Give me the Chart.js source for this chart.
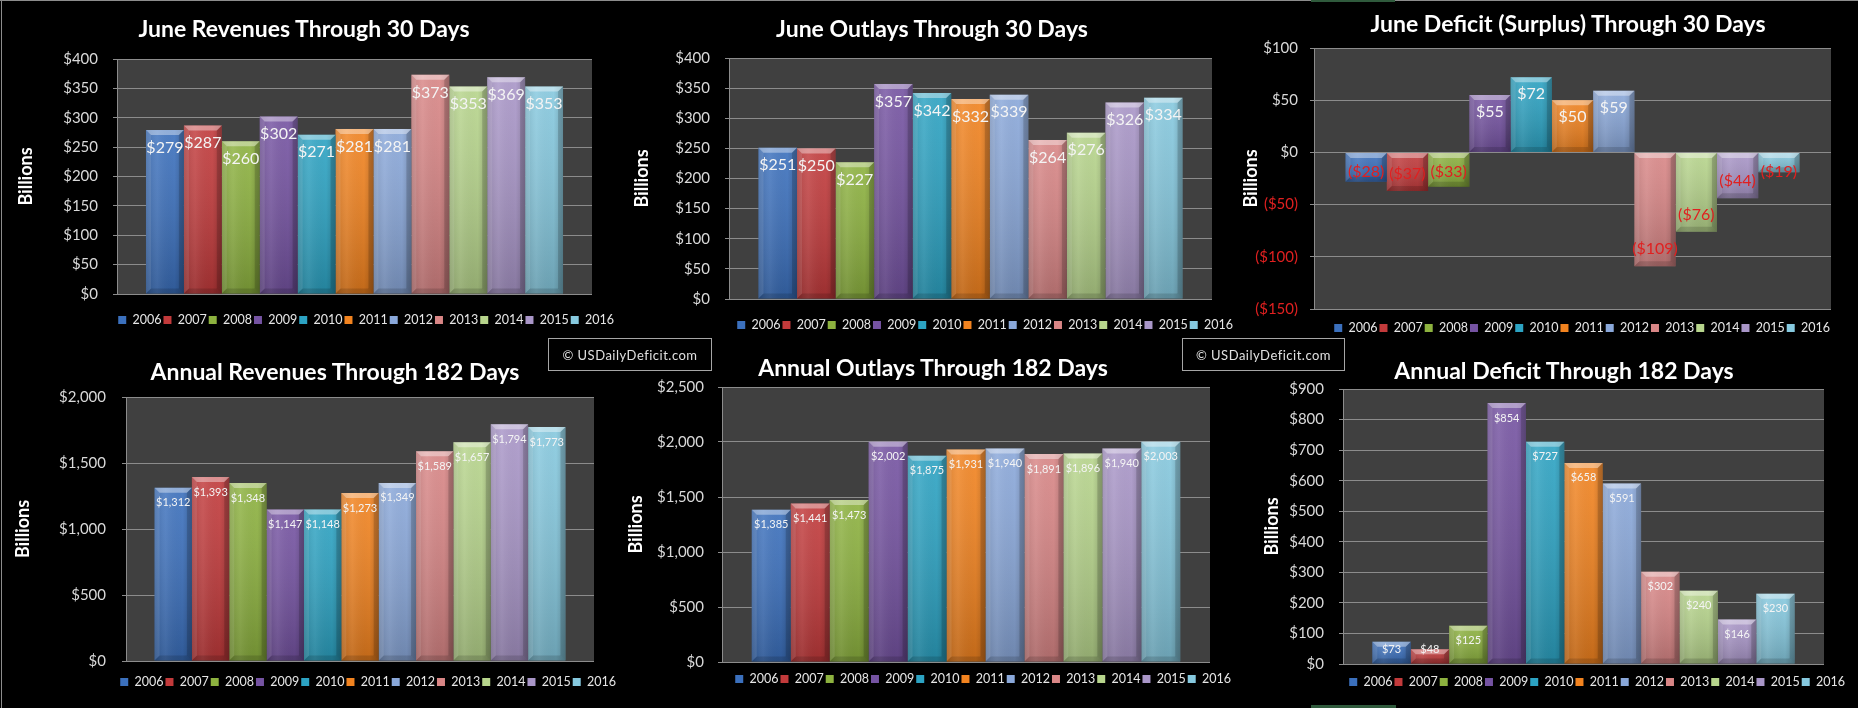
<!DOCTYPE html>
<html>
<head>
<meta charset="utf-8">
<title>US Daily Deficit - June</title>
<script src="https://cdn.jsdelivr.net/npm/chart.js@4.4.1/dist/chart.umd.min.js"></script>
<style>
  html, body { margin: 0; padding: 0; background: #000; overflow: hidden; }
  #board { position: relative; width: 1858px; height: 708px; overflow: hidden; background: #000; }
  canvas { position: absolute; }
  .line { position: absolute; background: #8c8c8c; }
  .title { position: absolute; transform: translate(-50%, -50%); color: #fff;
           font: bold 23px Lato, sans-serif; white-space: nowrap; }
  .stamp { position: absolute; box-sizing: border-box; border: 1px solid #a6a6a6; color: #e0e0e0;
           font: 13px Lato, sans-serif; letter-spacing: 0.5px;
           display: flex; align-items: center; justify-content: center; }
</style>
</head>
<body>
<div id="board">
  <div class="line" style="left:0;top:0;width:1858px;height:1px"></div>
  <div class="line" style="left:1px;top:0;width:1px;height:708px"></div>
  <div class="line" style="left:1311px;top:0;width:84px;height:2px;background:#2f5a3c"></div>
  <div class="line" style="left:1311px;top:705px;width:85px;height:3px;background:#2f5a3c"></div>

  <canvas id="c1"></canvas>
  <canvas id="c2"></canvas>
  <canvas id="c3"></canvas>
  <canvas id="c4"></canvas>
  <canvas id="c5"></canvas>
  <canvas id="c6"></canvas>

  <div class="title" style="left:304px;top:28px">June Revenues Through 30 Days</div>
  <div class="title" style="left:932px;top:28px">June Outlays Through 30 Days</div>
  <div class="title" style="left:1568px;top:23px">June Deficit (Surplus) Through 30 Days</div>
  <div class="title" style="left:335px;top:371px">Annual Revenues Through 182 Days</div>
  <div class="title" style="left:933px;top:367px">Annual Outlays Through 182 Days</div>
  <div class="title" style="left:1564px;top:370px">Annual Deficit Through 182 Days</div>

  <div class="stamp" style="left:548px;top:338px;width:164px;height:33px">© USDailyDeficit.com</div>
  <div class="stamp" style="left:1182px;top:338px;width:163px;height:33px">© USDailyDeficit.com</div>
</div>

<script>
// ---- data ----
const years = ['2006', '2007', '2008', '2009', '2010', '2011', '2012', '2013', '2014', '2015', '2016'];
const colors = ['#3b70bd', '#c23a3b', '#8db23f', '#7553a2', '#2ca3c3', '#f2831f',
                '#8aa8da', '#d98686', '#b7d58c', '#a996c8', '#86c9df'];

const juneRevenues   = [279, 287, 260, 302, 271, 281, 281, 373, 353, 369, 353];
const juneOutlays    = [251, 250, 227, 357, 342, 332, 339, 264, 276, 326, 334];
const juneDeficit    = [-28, -37, -33, 55, 72, 50, 59, -109, -76, -44, -19];
const annualRevenues = [1312, 1393, 1348, 1147, 1148, 1273, 1349, 1589, 1657, 1794, 1773];
const annualOutlays  = [1385, 1441, 1473, 2002, 1875, 1931, 1940, 1891, 1896, 1940, 2003];
const annualDeficit  = [73, 48, 125, 854, 727, 658, 591, 302, 240, 146, 230];

// y axis [min, max, step]
const juneRange       = [0, 400, 50];
const juneDefRange    = [-150, 100, 50];
const annRevRange     = [0, 2000, 500];
const annOutRange     = [0, 2500, 500];
const annDefRange     = [0, 900, 100];

const RED = '#e02020';
const GRID = '#8c8c8c';

function money(v) {
    const s = '$' + Math.abs(v).toLocaleString('en-US');
    return v < 0 ? '(' + s + ')' : s;
}

// dark plot area
const panel = {
    id: 'panel',
    beforeDraw(chart) {
        const a = chart.chartArea;
        chart.ctx.save();
        chart.ctx.fillStyle = '#404040';
        chart.ctx.fillRect(a.left, a.top, a.right - a.left, a.bottom - a.top);
        chart.ctx.restore();
    }
};

function poly(ctx, pts, fill) {
    ctx.beginPath();
    ctx.moveTo(pts[0][0], pts[0][1]);
    for (let k = 1; k < pts.length; k++) ctx.lineTo(pts[k][0], pts[k][1]);
    ctx.closePath();
    ctx.fillStyle = fill;
    ctx.fill();
}

// bevel look + value labels
const barDecor = {
    id: 'barDecor',
    afterDatasetsDraw(chart, args, opts) {
        const ctx = chart.ctx;
        const zero = chart.scales.y.getPixelForValue(0);
        ctx.save();
        chart.data.datasets.forEach((ds, i) => {
            chart.getDatasetMeta(i).data.forEach((bar, j) => {
                const p = bar.getProps(['x', 'y', 'base', 'width'], true);
                const l = p.x - p.width / 2, r = p.x + p.width / 2;
                const t = Math.min(p.y, p.base), b = Math.max(p.y, p.base);
                const e = Math.min(5, (b - t) / 2);

                let g = ctx.createLinearGradient(0, t, 0, b);
                g.addColorStop(0, 'rgba(255,255,255,0.10)');
                g.addColorStop(1, 'rgba(0,0,0,0.20)');
                ctx.fillStyle = g;
                ctx.fillRect(l, t, p.width, b - t);

                g = ctx.createLinearGradient(l, 0, r, 0);
                g.addColorStop(0, 'rgba(0,0,0,0.12)');
                g.addColorStop(0.3, 'rgba(255,255,255,0.07)');
                g.addColorStop(0.75, 'rgba(0,0,0,0)');
                g.addColorStop(1, 'rgba(0,0,0,0.18)');
                ctx.fillStyle = g;
                ctx.fillRect(l, t, p.width, b - t);

                poly(ctx, [[l, t], [r, t], [r - e, t + e], [l + e, t + e]], 'rgba(255,255,255,0.38)');
                poly(ctx, [[l, t], [l + e, t + e], [l + e, b - e], [l, b]], 'rgba(255,255,255,0.10)');
                poly(ctx, [[r, t], [r - e, t + e], [r - e, b - e], [r, b]], 'rgba(0,0,0,0.16)');
                poly(ctx, [[l, b], [l + e, b - e], [r - e, b - e], [r, b]], 'rgba(0,0,0,0.14)');

                const v = ds.data[j];
                let cy;
                if (v >= 0) cy = Math.min(p.y + opts.off, zero - opts.minOff);
                else cy = Math.max(p.y - opts.off, zero + opts.minOff);
                ctx.font = opts.size + 'px Lato';
                ctx.textAlign = 'center';
                ctx.textBaseline = 'middle';
                ctx.fillStyle = v < 0 ? RED : '#f4f4f4';
                ctx.fillText(money(v), p.x, cy);
            });
        });
        ctx.restore();
    }
};

Chart.defaults.font.family = 'Lato, sans-serif';

function makeChart(id, values, range, box, lbl) {
    const billLH = 18 * 1.2;
    const padL = box.billX - box.x0 - billLH / 2;
    const W = Math.round(2 * (box.legX - box.x0) - padL);
    const legFont = 12.5, legPad = 2;
    const xh = box.legY - box.b - legPad - legFont / 2;
    const H = Math.round(box.b + xh + legFont + legPad + 10 - box.y0 + 2);

    const canvas = document.getElementById(id);
    canvas.width = W;
    canvas.height = H;
    canvas.style.left = box.x0 + 'px';
    canvas.style.top = box.y0 + 'px';

    return new Chart(canvas, {
        type: 'bar',
        data: {
            labels: [id],
            datasets: years.map((yr, i) => ({
                label: yr,
                data: [values[i]],
                backgroundColor: colors[i],
                borderWidth: 0
            }))
        },
        options: {
            responsive: false,
            animation: false,
            devicePixelRatio: 1,
            datasets: { bar: { categoryPercentage: 0.878, barPercentage: 1 } },
            layout: { padding: { left: padL, right: 0, top: box.t - box.y0, bottom: H - (box.b - box.y0) - xh - (legFont + legPad + 10) } },
            plugins: {
                title: { display: false },
                tooltip: { enabled: false },
                legend: {
                    position: 'bottom',
                    labels: { color: '#e6e6e6', boxWidth: 8, boxHeight: 8, padding: legPad, font: { size: legFont } }
                },
                barDecor: lbl
            },
            scales: {
                x: {
                    display: true,
                    grid: { display: false },
                    border: { display: false },
                    ticks: { display: false },
                    afterFit: s => { s.height = xh; }
                },
                y: {
                    min: range[0],
                    max: range[1],
                    ticks: {
                        stepSize: range[2],
                        color: c => (c.tick && c.tick.value < 0) ? RED : '#d9d9d9',
                        font: { size: 15 },
                        padding: box.l - box.tickR - 4,
                        callback: v => money(v)
                    },
                    grid: { color: GRID, tickLength: 4, drawTicks: true },
                    border: { color: GRID },
                    title: { display: true, text: 'Billions', color: '#fff', font: { size: 18, weight: 'bold' }, padding: 0 },
                    afterFit: s => { s.width = box.l - box.x0 - padL; }
                },
                y2: {
                    position: 'right',
                    display: true,
                    grid: { display: false },
                    border: { display: false },
                    ticks: { display: false },
                    afterFit: s => { s.width = box.x0 + W - box.r; }
                }
            }
        },
        plugins: [panel, barDecor]
    });
}

const topLbl = { size: 16, off: 17.5, minOff: 19 };
const botLbl = { size: 11, off: 15, minOff: 15 };

makeChart('c1', juneRevenues, juneRange,
    { x0: 0, y0: 0, l: 117, r: 592, t: 59, b: 294, tickR: 98, billX: 26, legX: 366, legY: 320 }, topLbl);
makeChart('c2', juneOutlays, juneRange,
    { x0: 620, y0: 0, l: 729, r: 1212, t: 58, b: 299, tickR: 710, billX: 642, legX: 985, legY: 325 }, topLbl);
makeChart('c3', juneDeficit, juneDefRange,
    { x0: 1240, y0: 0, l: 1314, r: 1831, t: 48, b: 309, tickR: 1298, billX: 1251, legX: 1582, legY: 328 },
    { size: 16, off: 17, minOff: 19 });
makeChart('c4', annualRevenues, annRevRange,
    { x0: 0, y0: 340, l: 126, r: 594, t: 397, b: 661, tickR: 106, billX: 23, legX: 368, legY: 682 }, botLbl);
makeChart('c5', annualOutlays, annOutRange,
    { x0: 620, y0: 340, l: 722, r: 1210, t: 387, b: 662, tickR: 704, billX: 636, legX: 983, legY: 679 }, botLbl);
makeChart('c6', annualDeficit, annDefRange,
    { x0: 1240, y0: 340, l: 1343, r: 1824, t: 389, b: 664, tickR: 1324, billX: 1272, legX: 1597, legY: 682 }, botLbl);
</script>
</body>
</html>
